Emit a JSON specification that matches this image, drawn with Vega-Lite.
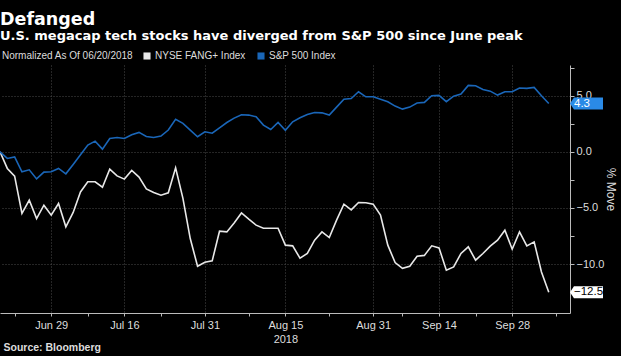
{
  "$schema": "https://vega.github.io/schema/vega-lite/v6.json",
  "width": 570,
  "height": 248,
  "autosize": {"type": "none"},
  "padding": {"left": 0, "top": 65, "right": 51, "bottom": 43},
  "background": "#000000",
  "config": {"view": {"stroke": null}, "font": "Liberation Sans"},
  "title": {
    "text": "Defanged",
    "subtitle": "U.S. megacap tech stocks have diverged from S&P 500 since June peak",
    "anchor": "start",
    "frame": "group",
    "orient": "top",
    "offset": 8,
    "font": "DejaVu Sans",
    "fontSize": 17.5,
    "fontWeight": "bold",
    "color": "#ffffff",
    "subtitleFont": "DejaVu Sans",
    "subtitleFontSize": 13,
    "subtitleFontWeight": "bold",
    "subtitleColor": "#ffffff",
    "subtitlePadding": 2
  },
  "data": {
    "values": [
      {"i": 0, "d": "2018-06-20", "f": 0, "s": 0},
      {"i": 1, "d": "2018-06-21", "f": -1.48, "s": -0.59},
      {"i": 2, "d": "2018-06-22", "f": -2.17, "s": -0.45},
      {"i": 3, "d": "2018-06-25", "f": -5.49, "s": -1.78},
      {"i": 4, "d": "2018-06-26", "f": -4.31, "s": -1.6},
      {"i": 5, "d": "2018-06-27", "f": -5.94, "s": -2.41},
      {"i": 6, "d": "2018-06-28", "f": -4.75, "s": -1.81},
      {"i": 7, "d": "2018-06-29", "f": -5.64, "s": -1.78},
      {"i": 8, "d": "2018-07-02", "f": -4.6, "s": -1.48},
      {"i": 9, "d": "2018-07-03", "f": -6.68, "s": -1.96},
      {"i": 10, "d": "2018-07-05", "f": -5.4, "s": -1.12},
      {"i": 11, "d": "2018-07-06", "f": -3.57, "s": -0.27},
      {"i": 12, "d": "2018-07-09", "f": -2.67, "s": 0.6},
      {"i": 13, "d": "2018-07-10", "f": -2.67, "s": 0.95},
      {"i": 14, "d": "2018-07-11", "f": -3.15, "s": 0.24},
      {"i": 15, "d": "2018-07-12", "f": -1.54, "s": 1.19},
      {"i": 16, "d": "2018-07-13", "f": -2.14, "s": 1.28},
      {"i": 17, "d": "2018-07-16", "f": -2.43, "s": 1.19},
      {"i": 18, "d": "2018-07-17", "f": -1.66, "s": 1.52},
      {"i": 19, "d": "2018-07-18", "f": -2.25, "s": 1.73},
      {"i": 20, "d": "2018-07-19", "f": -3.3, "s": 1.37},
      {"i": 21, "d": "2018-07-20", "f": -3.62, "s": 1.28},
      {"i": 22, "d": "2018-07-23", "f": -3.86, "s": 1.4},
      {"i": 23, "d": "2018-07-24", "f": -3.65, "s": 1.94},
      {"i": 24, "d": "2018-07-25", "f": -1.43, "s": 2.89},
      {"i": 25, "d": "2018-07-26", "f": -4.15, "s": 2.53},
      {"i": 26, "d": "2018-07-27", "f": -7.72, "s": 1.94},
      {"i": 27, "d": "2018-07-30", "f": -10.19, "s": 1.34},
      {"i": 28, "d": "2018-07-31", "f": -9.83, "s": 1.78},
      {"i": 29, "d": "2018-08-01", "f": -9.71, "s": 1.66},
      {"i": 30, "d": "2018-08-02", "f": -7.07, "s": 2.14},
      {"i": 31, "d": "2018-08-03", "f": -7.13, "s": 2.61},
      {"i": 32, "d": "2018-08-06", "f": -6.33, "s": 3.0},
      {"i": 33, "d": "2018-08-07", "f": -5.44, "s": 3.3},
      {"i": 34, "d": "2018-08-08", "f": -6.0, "s": 3.27},
      {"i": 35, "d": "2018-08-09", "f": -6.53, "s": 3.12},
      {"i": 36, "d": "2018-08-10", "f": -6.8, "s": 2.38},
      {"i": 37, "d": "2018-08-13", "f": -6.8, "s": 1.99},
      {"i": 38, "d": "2018-08-14", "f": -6.8, "s": 2.61},
      {"i": 39, "d": "2018-08-15", "f": -8.31, "s": 1.91},
      {"i": 40, "d": "2018-08-16", "f": -8.37, "s": 2.67},
      {"i": 41, "d": "2018-08-17", "f": -9.47, "s": 3.03},
      {"i": 42, "d": "2018-08-20", "f": -9.05, "s": 3.33},
      {"i": 43, "d": "2018-08-21", "f": -7.86, "s": 3.5},
      {"i": 44, "d": "2018-08-22", "f": -7.13, "s": 3.47},
      {"i": 45, "d": "2018-08-23", "f": -7.63, "s": 3.27},
      {"i": 46, "d": "2018-08-24", "f": -6.08, "s": 3.98},
      {"i": 47, "d": "2018-08-27", "f": -4.66, "s": 4.69},
      {"i": 48, "d": "2018-08-28", "f": -5.17, "s": 4.75},
      {"i": 49, "d": "2018-08-29", "f": -4.51, "s": 5.35},
      {"i": 50, "d": "2018-08-30", "f": -4.54, "s": 4.9},
      {"i": 51, "d": "2018-08-31", "f": -4.66, "s": 4.9},
      {"i": 52, "d": "2018-09-04", "f": -5.64, "s": 4.69},
      {"i": 53, "d": "2018-09-05", "f": -8.31, "s": 4.46},
      {"i": 54, "d": "2018-09-06", "f": -9.86, "s": 4.07},
      {"i": 55, "d": "2018-09-07", "f": -10.37, "s": 3.8},
      {"i": 56, "d": "2018-09-10", "f": -10.19, "s": 3.98},
      {"i": 57, "d": "2018-09-11", "f": -9.3, "s": 4.34},
      {"i": 58, "d": "2018-09-12", "f": -9.22, "s": 4.4},
      {"i": 59, "d": "2018-09-13", "f": -8.37, "s": 4.99},
      {"i": 60, "d": "2018-09-14", "f": -8.55, "s": 5.02},
      {"i": 61, "d": "2018-09-17", "f": -10.54, "s": 4.46},
      {"i": 62, "d": "2018-09-18", "f": -10.25, "s": 4.96},
      {"i": 63, "d": "2018-09-19", "f": -9.05, "s": 5.14},
      {"i": 64, "d": "2018-09-20", "f": -8.46, "s": 5.91},
      {"i": 65, "d": "2018-09-21", "f": -9.65, "s": 5.88},
      {"i": 66, "d": "2018-09-24", "f": -9.05, "s": 5.55},
      {"i": 67, "d": "2018-09-25", "f": -8.4, "s": 5.4},
      {"i": 68, "d": "2018-09-26", "f": -7.87, "s": 5.05},
      {"i": 69, "d": "2018-09-27", "f": -6.98, "s": 5.35},
      {"i": 70, "d": "2018-09-28", "f": -8.67, "s": 5.35},
      {"i": 71, "d": "2018-10-01", "f": -7.13, "s": 5.68},
      {"i": 72, "d": "2018-10-02", "f": -8.37, "s": 5.65},
      {"i": 73, "d": "2018-10-03", "f": -8.02, "s": 5.74},
      {"i": 74, "d": "2018-10-04", "f": -10.7, "s": 4.99},
      {"i": 75, "d": "2018-10-05", "f": -12.5, "s": 4.3}
    ]
  },
  "transform": [{"fold": ["f", "s"], "as": ["key", "v"]}],
  "encoding": {
    "y": {
      "field": "v",
      "type": "quantitative",
      "scale": {"domain": [-14.35, 7.73], "nice": false, "zero": false},
      "axis": {
        "orient": "right",
        "values": [-12.5, -10, -7.5, -5, -2.5, 0, 2.5, 5, 7.5],
        "labelExpr": "indexof([-10, -5, 0, 5], datum.value) >= 0 ? format(datum.value, '.1f') : ''",
        "title": "% Move",
        "titleAngle": 90,
        "titleFont": "Liberation Sans",
        "titleFontSize": 12,
        "titleFontWeight": "normal",
        "titleColor": "#dddddd",
        "titlePadding": 0,
        "labelFont": "Liberation Sans",
        "labelFontSize": 11,
        "labelColor": "#dddddd",
        "labelPadding": 2,
        "labelOverlap": false,
        "labelFlush": false,
        "tickColor": "#bbbbbb",
        "tickSize": 4,
        "domainColor": "#bbbbbb",
        "grid": true,
        "gridColor": "#4a4a4a",
        "gridDash": [1, 2],
        "gridOpacity": {"condition": {"test": "indexof([-10, -5, 0, 5], datum.value) >= 0", "value": 1}, "value": 0}
      }
    }
  },
  "layer": [
    {
      "mark": {"type": "line", "strokeWidth": 1.6},
      "encoding": {
        "x": {
          "field": "i",
          "type": "quantitative",
          "scale": {"domain": [0, 77.9], "nice": false, "zero": false},
          "axis": {
            "values": [2, 7, 12, 17, 22, 28, 34, 39, 45, 51, 55, 60, 65, 70, 76],
            "labelExpr": "datum.value == 7 ? 'Jun 29' : datum.value == 17 ? 'Jul 16' : datum.value == 28 ? 'Jul 31' : datum.value == 39 ? ['Aug 15', '2018'] : datum.value == 51 ? 'Aug 31' : datum.value == 60 ? 'Sep 14' : datum.value == 70 ? 'Sep 28' : ''",
            "title": "Source: Bloomberg",
            "titleAnchor": "start",
            "titleAlign": "left",
            "titleBaseline": "alphabetic",
            "titleX": 3,
            "titleY": 37,
            "titleFont": "Liberation Sans",
            "titleFontSize": 10.5,
            "titleFontWeight": "bold",
            "titleColor": "#dddddd",
            "labelFont": "Liberation Sans",
            "labelFontSize": 11,
            "labelColor": "#dddddd",
            "labelPadding": 3,
            "labelLineHeight": 14,
            "labelFlush": false,
            "labelOverlap": false,
            "tickSize": 3,
            "tickColor": "#bbbbbb",
            "domainColor": "#bbbbbb",
            "grid": true,
            "gridColor": "#4a4a4a",
            "gridDash": [1, 2],
            "gridOpacity": {"condition": {"test": "indexof([7, 17, 28, 39, 51, 60, 70], datum.value) >= 0", "value": 1}, "value": 0}
          }
        },
        "color": {
          "field": "key",
          "type": "nominal",
          "scale": {"domain": ["f", "s"], "range": ["#e8e8e8", "#1a66b8"]},
          "legend": {
            "orient": "none",
            "legendX": 2,
            "legendY": -14,
            "direction": "horizontal",
            "title": "Normalized As Of 06/20/2018",
            "titleOrient": "left",
            "titleFont": "Liberation Sans",
            "titleFontSize": 10,
            "titleFontWeight": "normal",
            "titleColor": "#dddddd",
            "titlePadding": 8,
            "labelFont": "Liberation Sans",
            "labelFontSize": 10,
            "labelColor": "#dddddd",
            "labelOffset": 3,
            "labelExpr": "datum.label == 'f' ? 'NYSE FANG+ Index' : 'S&P 500 Index'",
            "symbolType": "square",
            "symbolSize": 50,
            "symbolStrokeWidth": 0,
            "columnPadding": 10,
            "encode": {"symbols": {"update": {"fill": {"signal": "scale('color', datum.value)"}, "stroke": {"value": "transparent"}}}}
          }
        }
      }
    },
    {
      "transform": [{"filter": "datum.i == 75"}],
      "mark": {"type": "point", "shape": "M0,0L0.24,-0.36L2,-0.36L2,0.36L0.24,0.36Z", "size": 1089, "filled": true, "opacity": 1, "strokeWidth": 0},
      "encoding": {
        "x": {"value": "width"},
        "fill": {"condition": {"test": "datum.key == 's'", "value": "#2a8ae6"}, "value": "#ffffff"}
      }
    },
    {
      "transform": [{"filter": "datum.i == 75"}],
      "mark": {"type": "text", "align": "left", "baseline": "middle", "dx": 4, "fontSize": 11.5, "font": "Liberation Sans"},
      "encoding": {
        "x": {"value": "width"},
        "text": {"field": "v", "type": "quantitative", "format": ".1f"},
        "color": {"condition": {"test": "datum.key == 's'", "value": "#ffffff"}, "value": "#000000"}
      }
    }
  ]
}
